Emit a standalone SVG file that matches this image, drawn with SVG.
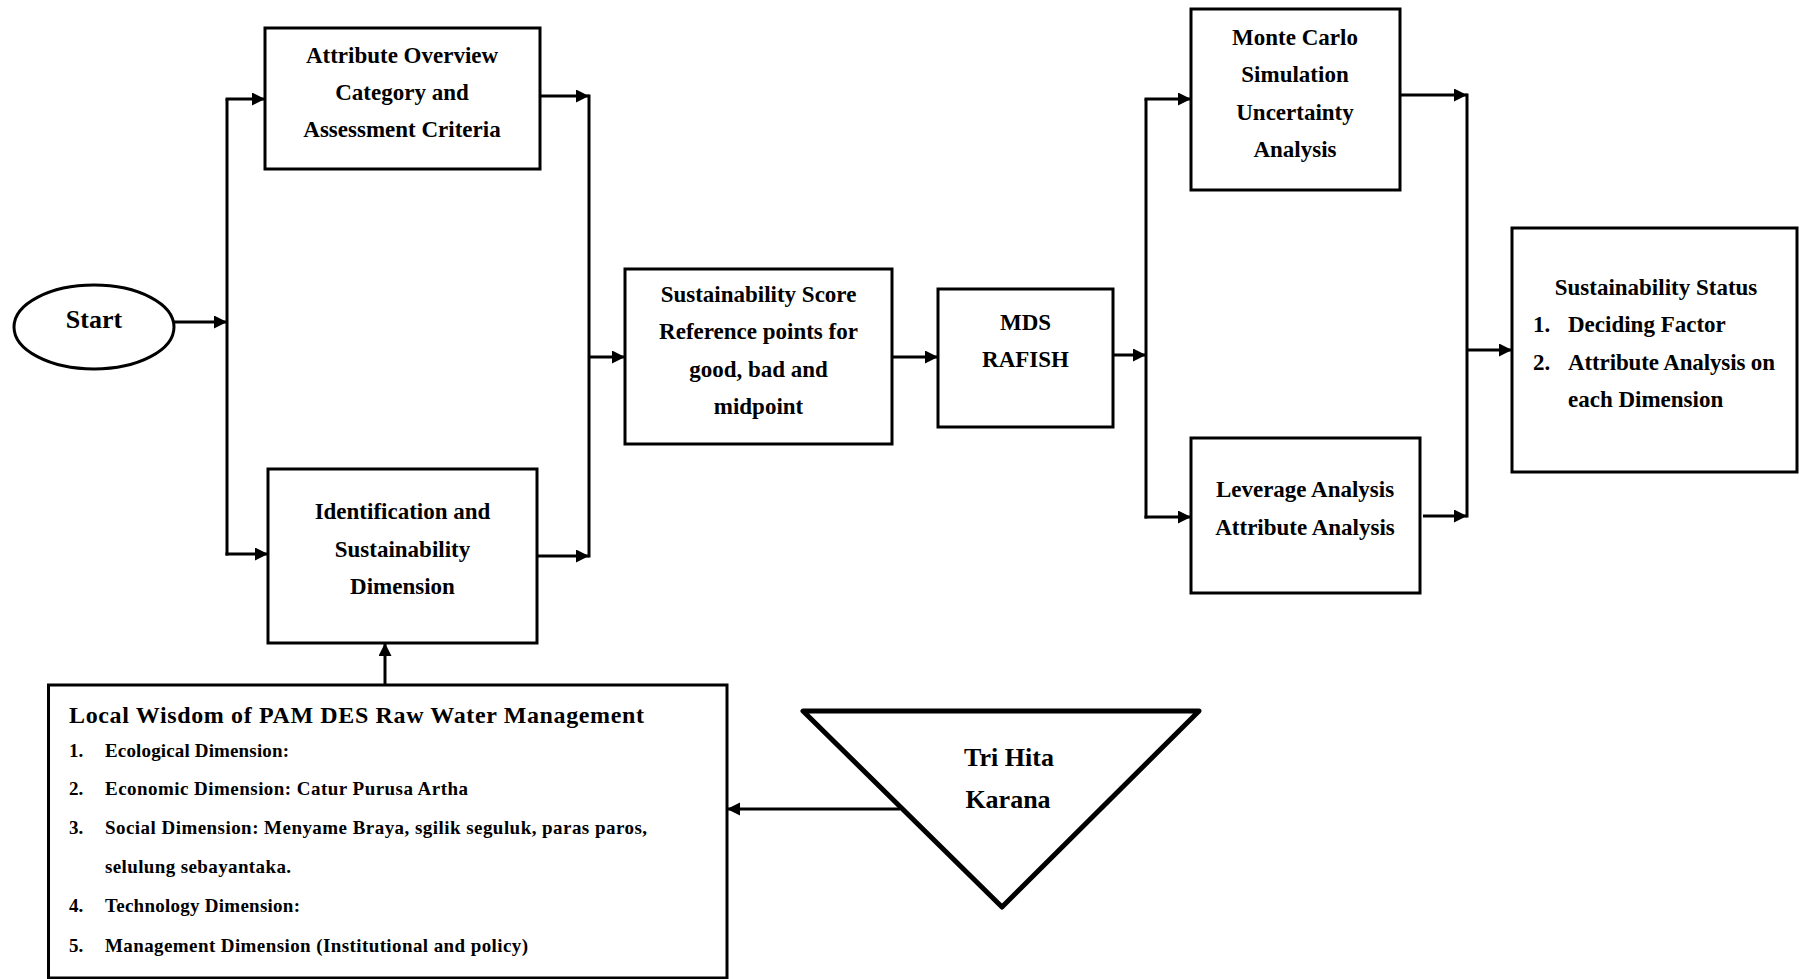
<svg xmlns="http://www.w3.org/2000/svg" width="1799" height="979" viewBox="0 0 1799 979">
<defs>
<marker id="ah" markerUnits="userSpaceOnUse" markerWidth="14" markerHeight="14" refX="13" refY="6.5" orient="auto">
<path d="M0,0 L13,6.5 L0,13 z" fill="#000"/>
</marker>
<style>
.box{fill:#fff;stroke:#000;stroke-width:3}
.t{font-family:"Liberation Serif","Times New Roman",serif;font-weight:bold;font-size:23px;fill:#000}
.c{text-anchor:middle}
.s{font-size:19px}
.con line,.con path{stroke:#000;stroke-width:3;fill:none}
.arr{marker-end:url(#ah)}
</style>
</defs>
<rect width="1799" height="979" fill="#fff"/>

<g id="start">
<ellipse cx="94" cy="327" rx="80" ry="42" class="box"/>
<text x="94" y="328" class="t c" style="font-size:26px">Start</text>
</g>

<g id="attribute">
<rect x="265" y="28" width="275" height="141" class="box"/>
<text x="402" y="63" class="t c">Attribute Overview</text>
<text x="402" y="100" class="t c">Category and</text>
<text x="402" y="137" class="t c">Assessment Criteria</text>
</g>

<g id="identification">
<rect x="268" y="469" width="269" height="174" class="box"/>
<text x="402.5" y="519" class="t c">Identification and</text>
<text x="402.5" y="557" class="t c">Sustainability</text>
<text x="402.5" y="594" class="t c">Dimension</text>
</g>

<g id="score">
<rect x="625" y="269" width="267" height="175" class="box"/>
<text x="758.5" y="302" class="t c">Sustainability Score</text>
<text x="758.5" y="339" class="t c">Reference points for</text>
<text x="758.5" y="377" class="t c">good, bad and</text>
<text x="758.5" y="414" class="t c">midpoint</text>
</g>

<g id="mds">
<rect x="938" y="289" width="175" height="138" class="box"/>
<text x="1025.5" y="330" class="t c">MDS</text>
<text x="1025.5" y="367" class="t c">RAFISH</text>
</g>

<g id="montecarlo">
<rect x="1191" y="9" width="209" height="181" class="box"/>
<text x="1295" y="45" class="t c">Monte Carlo</text>
<text x="1295" y="82" class="t c">Simulation</text>
<text x="1295" y="120" class="t c">Uncertainty</text>
<text x="1295" y="157" class="t c">Analysis</text>
</g>

<g id="leverage">
<rect x="1191" y="438" width="229" height="155" class="box"/>
<text x="1305" y="497" class="t c">Leverage Analysis</text>
<text x="1305" y="535" class="t c">Attribute Analysis</text>
</g>

<g id="status">
<rect x="1512" y="228" width="285" height="244" class="box"/>
<text x="1656" y="295" class="t c">Sustainability Status</text>
<text x="1533" y="332" class="t">1.</text>
<text x="1568" y="332" class="t">Deciding Factor</text>
<text x="1533" y="370" class="t">2.</text>
<text x="1568" y="370" class="t" textLength="207" lengthAdjust="spacing">Attribute Analysis on</text>
<text x="1568" y="407" class="t">each Dimension</text>
</g>

<g id="localwisdom">
<rect x="48.5" y="685" width="678.5" height="293" class="box"/>
<text x="69" y="723" class="t" style="font-size:24px" textLength="575" lengthAdjust="spacing">Local Wisdom of PAM DES Raw Water Management</text>
<text x="69" y="757" class="t s">1.</text>
<text x="105" y="757" class="t s" textLength="184" lengthAdjust="spacing">Ecological Dimension:</text>
<text x="69" y="795" class="t s">2.</text>
<text x="105" y="795" class="t s" textLength="363" lengthAdjust="spacing">Economic Dimension: Catur Purusa Artha</text>
<text x="69" y="834" class="t s">3.</text>
<text x="105" y="834" class="t s" textLength="542" lengthAdjust="spacing">Social Dimension: Menyame Braya, sgilik seguluk, paras paros,</text>
<text x="105" y="873" class="t s" textLength="186" lengthAdjust="spacing">selulung sebayantaka.</text>
<text x="69" y="912" class="t s">4.</text>
<text x="105" y="912" class="t s" textLength="195" lengthAdjust="spacing">Technology Dimension:</text>
<text x="69" y="952" class="t s">5.</text>
<text x="105" y="952" class="t s" textLength="423" lengthAdjust="spacing">Management Dimension (Institutional and policy)</text>
</g>

<g id="trihitakarana">
<polygon points="803,711 1199,711 1002,907" fill="#fff" stroke="#000" stroke-width="5" stroke-linejoin="round"/>
<text x="1009" y="766" class="t c" style="font-size:26px">Tri Hita</text>
<text x="1008" y="808" class="t c" style="font-size:26px">Karana</text>
</g>

<g id="connectors" class="con">
<line x1="174" y1="322" x2="227" y2="322" class="arr"/>
<line x1="227" y1="99" x2="227" y2="555.5"/>
<line x1="225.5" y1="99" x2="265" y2="99" class="arr"/>
<line x1="225.5" y1="554" x2="268" y2="554" class="arr"/>
<line x1="540" y1="96" x2="589" y2="96" class="arr"/>
<line x1="537" y1="556" x2="589" y2="556" class="arr"/>
<line x1="589" y1="94.5" x2="589" y2="557.5"/>
<line x1="589" y1="357" x2="625" y2="357" class="arr"/>
<line x1="892" y1="357" x2="938" y2="357" class="arr"/>
<line x1="1113" y1="355" x2="1146" y2="355" class="arr"/>
<line x1="1146" y1="99" x2="1146" y2="518.5"/>
<line x1="1144.5" y1="99" x2="1191" y2="99" class="arr"/>
<line x1="1144.5" y1="517" x2="1191" y2="517" class="arr"/>
<line x1="1400" y1="95" x2="1467" y2="95" class="arr"/>
<line x1="1423" y1="516" x2="1467" y2="516" class="arr"/>
<line x1="1467" y1="93.5" x2="1467" y2="517.5"/>
<line x1="1467" y1="350" x2="1512" y2="350" class="arr"/>
<line x1="385" y1="685" x2="385" y2="643" class="arr"/>
<line x1="900" y1="809" x2="727" y2="809" class="arr"/>
</g>
</svg>
